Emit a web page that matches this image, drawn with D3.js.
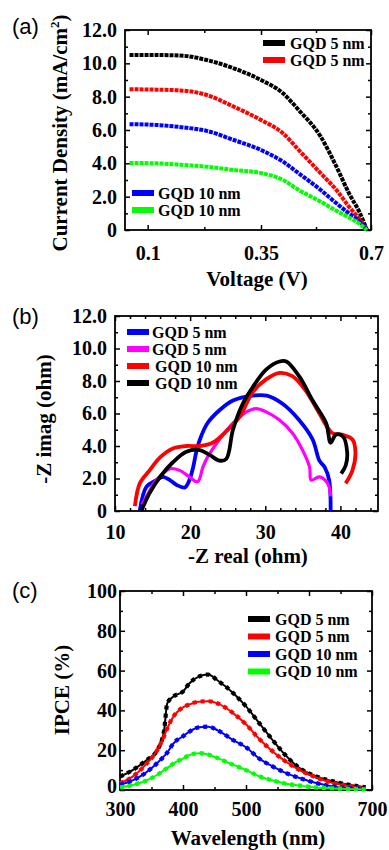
<!DOCTYPE html>
<html>
<head>
<meta charset="utf-8">
<script src="https://cdn.jsdelivr.net/npm/d3@7"></script>
<style>
  body { margin: 0; background: #fff; }
  svg { display: block; }
  .tick text { font-family: "Liberation Serif", serif; font-weight: bold; font-size: 20px; fill: #000; }
  .domain { display: none; }
  .tick line { stroke: #000; stroke-width: 1.5; }
  .title { font-family: "Liberation Serif", serif; font-weight: bold; font-size: 21px; fill: #000; }
  .leg { font-family: "Liberation Serif", serif; font-weight: bold; font-size: 16px; fill: #000; }
  .plabel { font-family: "Liberation Sans", sans-serif; font-size: 22px; fill: #000; }
</style>
</head>
<body>
<svg width="389" height="850"></svg>
<script>
// (a) J-V curves
var voltage = [0.06, 0.12, 0.18, 0.23, 0.29, 0.35, 0.42, 0.47, 0.54, 0.59, 0.63, 0.665, 0.687];
var jvBlack = [10.5, 10.5, 10.45, 10.2, 9.7, 9.0, 8.2, 7.2, 5.6, 3.8, 2.2, 1.0, 0];
var jvRed   = [8.45, 8.42, 8.36, 8.1, 7.4, 6.6, 5.8, 4.8, 3.4, 2.4, 1.4, 0.6, 0];
var jvBlue  = [6.35, 6.3, 6.15, 5.95, 5.4, 4.8, 4.1, 3.4, 2.4, 1.6, 1.0, 0.5, 0];
var jvGreen = [4.02, 4.0, 3.9, 3.8, 3.6, 3.42, 3.0, 2.4, 1.7, 1.15, 0.75, 0.35, 0];
var voltTicks = [0.1, 0.35, 0.7];
var voltLabels = ["0.1", "0.35", "0.7"];

// (b) Nyquist
var blueRe = [13.3, 14.2, 15.5, 16.4, 17.3, 18.2, 19.3, 19.9, 20.4, 20.8, 21.3, 22.3, 23.9, 25.7, 28.3, 30.2, 32.3, 34.5, 36.3, 37.2, 37.9, 38.5, 38.7];
var blueIm = [0.05, 1.5, 1.9, 2.1, 1.9, 1.6, 1.45, 1.9, 2.7, 3.6, 4.4, 5.4, 6.2, 6.8, 7.1, 7.1, 6.6, 5.6, 4.4, 3.1, 2.7, 1.9, 0];
var magRe = [13.6, 14.2, 15.5, 17.3, 18.6, 19.9, 21.0, 21.7, 22.3, 23.9, 25.7, 27.5, 28.8, 30.1, 31.9, 33.6, 34.9, 35.9, 36.1, 37.2, 38.3, 38.7];
var magIm = [0.4, 0.9, 1.9, 2.6, 2.5, 2.1, 1.8, 2.7, 3.3, 4.4, 5.4, 6.1, 6.3, 6.1, 5.6, 4.8, 3.8, 2.7, 1.9, 2.1, 1.7, 0.9];
var redRe = [12.65, 13.3, 14.6, 16.0, 17.7, 19.5, 21.3, 23.0, 24.8, 26.6, 28.3, 30.1, 31.9, 33.6, 35.4, 37.2, 38.9, 40.2, 41.6, 42.0, 41.6, 40.7];
var redIm = [0.3, 1.7, 2.5, 3.3, 3.85, 4.0, 4.0, 4.2, 4.9, 5.8, 7.3, 8.1, 8.5, 8.3, 7.4, 6.0, 4.8, 4.7, 4.4, 3.6, 2.5, 1.7];
var blackRe = [13.5, 14.6, 16.0, 17.7, 19.5, 21.3, 22.6, 23.9, 24.8, 25.7, 27.0, 28.3, 30.1, 31.9, 32.8, 34.5, 36.3, 38.1, 38.7, 39.4, 40.3, 40.9, 40.7, 40.1];
var blackIm = [0, 1.1, 2.1, 3.0, 3.65, 3.75, 3.45, 3.1, 3.2, 5.0, 6.6, 7.6, 8.7, 9.2, 9.2, 8.3, 6.8, 5.4, 4.2, 4.7, 4.6, 3.6, 2.8, 2.3];

// (c) IPCE
var wavelength = [300, 320, 340, 360, 370, 375, 385, 400, 410, 425, 440, 455, 480, 500, 520, 540, 560, 585, 610, 640, 690];
var ipceBlack = [6.7, 10, 14.5, 20.5, 30, 43.5, 47, 49.5, 53.5, 57, 58, 55, 48.6, 42, 34, 26, 18.4, 11, 7, 4.2, 1.3];
var ipceRed   = [3.4, 6.7, 12.5, 20.5, 27, 31, 37, 41.5, 43, 44.4, 44.6, 43.5, 38.5, 33, 26, 20, 15, 10, 6.5, 3.4, 1.0];
var ipceBlue  = [2.5, 4.8, 8.5, 13.8, 17, 18.8, 23.5, 27, 29.3, 31.5, 31.8, 30, 25, 21.5, 16, 12.2, 9, 6, 3.6, 1.7, 0.6];
var ipceGreen = [1.3, 2.5, 4.5, 7.8, 10, 11, 13.3, 15.8, 17.5, 18.5, 17.8, 16, 12.6, 10, 7, 5, 3.4, 2.2, 1.3, 0.8, 0.3];

var svg = d3.select("svg");

function frame(g, x, y, xMajor, xMinor, yMajor, yMinor, xFmt, yFmt, xPad, yPad) {
    var x0 = x.range()[0], x1 = x.range()[x.range().length - 1];
    var y0 = y.range()[0], y1 = y.range()[1];
    g.append("g").attr("transform", "translate(0," + y0 + ")")
        .call(d3.axisBottom(x).tickValues(xMajor).tickFormat(xFmt).tickSize(-5).tickPadding(xPad));
    g.append("g").attr("transform", "translate(0," + y0 + ")")
        .call(d3.axisBottom(x).tickValues(xMinor).tickFormat("").tickSize(-3));
    g.append("g").attr("transform", "translate(0," + y1 + ")")
        .call(d3.axisTop(x).tickValues(xMajor).tickFormat("").tickSize(-5));
    g.append("g").attr("transform", "translate(0," + y1 + ")")
        .call(d3.axisTop(x).tickValues(xMinor).tickFormat("").tickSize(-3));
    g.append("g").attr("class", "yaxis").attr("transform", "translate(" + x0 + ",0)")
        .call(d3.axisLeft(y).tickValues(yMajor).tickFormat(yFmt).tickSize(-5).tickPadding(yPad));
    g.append("g").attr("transform", "translate(" + x0 + ",0)")
        .call(d3.axisLeft(y).tickValues(yMinor).tickFormat("").tickSize(-3));
    g.append("g").attr("transform", "translate(" + x1 + ",0)")
        .call(d3.axisRight(y).tickValues(yMajor).tickFormat("").tickSize(-5));
    g.append("g").attr("transform", "translate(" + x1 + ",0)")
        .call(d3.axisRight(y).tickValues(yMinor).tickFormat("").tickSize(-3));
    g.append("rect")
        .attr("x", x0).attr("y", y1)
        .attr("width", x1 - x0).attr("height", y0 - y1)
        .attr("fill", "none").attr("stroke", "#000").attr("stroke-width", 1.8);
}

function legend(g, items, lx, ly, step, tx) {
    items.forEach(function(d, i) {
        var yy = ly + i * step;
        g.append("line")
            .attr("x1", lx).attr("x2", lx + 22)
            .attr("y1", yy).attr("y2", yy)
            .attr("stroke", d.color).attr("stroke-width", 6);
        g.append("text").attr("class", "leg")
            .attr("x", d.tx || tx).attr("y", yy + 5.5)
            .text(d.name);
    });
}

function yFmtDec(d) { return d === 0 ? "0" : d3.format(".1f")(d); }

// ---------- panel (a) ----------
var ga = svg.append("g");
var xa = d3.scaleLinear().domain([0.05, 0.35, 0.7]).range([125, 261, 371]);
var ya = d3.scaleLinear().domain([0, 12]).range([230, 30]);
var aMinor = [xa.invert((xa(0.1) + xa(0.35)) / 2), xa.invert((xa(0.35) + xa(0.7)) / 2)];
frame(ga, xa, ya, voltTicks, aMinor, d3.range(0, 13, 2), d3.range(1, 12, 2),
    function(d, i) { return voltLabels[i]; }, yFmtDec, 16, 8);

var lineA = d3.line()
    .x(function(d) { return xa(d[0]); })
    .y(function(d) { return ya(d[1]); })
    .curve(d3.curveMonotoneX);
[[jvBlack, "#000"], [jvRed, "#f00"], [jvBlue, "#00f"], [jvGreen, "#0f0"]].forEach(function(s) {
    ga.append("path")
        .datum(voltage.map(function(v, i) { return [v, s[0][i]]; }))
        .attr("d", lineA)
        .attr("fill", "none").attr("stroke", s[1])
        .attr("stroke-width", 4).attr("stroke-dasharray", "4 1");
});
legend(ga, [{name: "GQD 5 nm", color: "#000"}, {name: "GQD 5 nm", color: "#f00"}], 263, 43, 17, 290);
legend(ga, [{name: "GQD 10 nm", color: "#00f"}, {name: "GQD 10 nm", color: "#0f0"}], 132, 193, 17, 158);

ga.append("text").attr("class", "title")
    .attr("transform", "translate(67,133) rotate(-90)")
    .attr("text-anchor", "middle")
    .text("Current Density (mA/cm")
    .append("tspan").attr("dy", -8).attr("font-size", 13).text("2")
    .select(function() { return this.parentNode; })
    .append("tspan").attr("dy", 8).text(")");
ga.append("text").attr("class", "title")
    .attr("x", 257).attr("y", 286).attr("text-anchor", "middle")
    .text("Voltage (V)");
ga.append("text").attr("class", "plabel").attr("x", 12).attr("y", 34).text("(a)");

// ---------- panel (b) ----------
var gb = svg.append("g");
var xb = d3.scaleLinear().domain([10, 45]).range([115, 378]);
var yb = d3.scaleLinear().domain([0, 12]).range([511, 316]);
frame(gb, xb, yb, [10, 20, 30, 40], [12, 14, 16, 18, 22, 24, 26, 28, 32, 34, 36, 38, 42, 44],
    d3.range(0, 13, 2), d3.range(1, 12, 2), d3.format("d"), yFmtDec, 14, 8);

var lineB = d3.line()
    .x(function(d) { return xb(d[0]); })
    .y(function(d) { return yb(d[1]); })
    .curve(d3.curveCatmullRom);
[[blueRe, blueIm, "#00f", 3.8], [magRe, magIm, "#f0f", 3.2], [redRe, redIm, "#f00", 3.8], [blackRe, blackIm, "#000", 3.8]].forEach(function(s) {
    gb.append("path")
        .datum(s[0].map(function(v, i) { return [v, s[1][i]]; }))
        .attr("d", lineB)
        .attr("fill", "none").attr("stroke", s[2])
        .attr("stroke-width", s[3]).attr("stroke-linejoin", "round");
});
legend(gb, [
    {name: "GQD 5 nm", color: "#00f"},
    {name: "GQD 5 nm", color: "#f0f"},
    {name: "GQD 10 nm", color: "#f00", tx: 155},
    {name: "GQD 10 nm", color: "#000", tx: 155}
], 127, 332, 17, 152);

gb.append("text").attr("class", "title")
    .attr("transform", "translate(51,419) rotate(-90)")
    .attr("text-anchor", "middle")
    .text("-Z imag (ohm)");
gb.append("text").attr("class", "title")
    .attr("x", 248).attr("y", 563).attr("text-anchor", "middle")
    .text("-Z real (ohm)");
gb.append("text").attr("class", "plabel").attr("x", 12).attr("y", 324).text("(b)");

// ---------- panel (c) ----------
var gc = svg.append("g");
var xc = d3.scaleLinear().domain([300, 700]).range([120, 372]);
var yc = d3.scaleLinear().domain([0, 100]).range([790, 591]);
frame(gc, xc, yc, d3.range(300, 701, 100), [350, 450, 550, 650],
    d3.range(0, 101, 20), d3.range(10, 100, 20), d3.format("d"), d3.format("d"), 12, 3);
// lift the corner "0" a little so it clears the "300" label
gc.select(".yaxis").selectAll(".tick text")
    .filter(function(d) { return d === 0; })
    .attr("dy", "0.12em");

var lineC = d3.line()
    .x(function(d) { return xc(d[0]); })
    .y(function(d) { return yc(d[1]); })
    .curve(d3.curveMonotoneX);
[[ipceBlack, "#000"], [ipceRed, "#f00"], [ipceBlue, "#00f"], [ipceGreen, "#0f0"]].forEach(function(s) {
    var pts = wavelength.map(function(v, i) { return [v, s[0][i]]; });
    gc.append("path").datum(pts).attr("d", lineC)
        .attr("fill", "none").attr("stroke", s[1]).attr("stroke-width", 2);
    gc.append("path").datum(pts).attr("d", lineC)
        .attr("fill", "none").attr("stroke", s[1])
        .attr("stroke-width", 4.2).attr("stroke-dasharray", "4 4");
});
legend(gc, [
    {name: "GQD 5 nm", color: "#000"},
    {name: "GQD 5 nm", color: "#f00"},
    {name: "GQD 10 nm", color: "#00f"},
    {name: "GQD 10 nm", color: "#0f0"}
], 248, 619, 17.5, 275);

gc.append("text").attr("class", "title")
    .attr("transform", "translate(69,690) rotate(-90)")
    .attr("text-anchor", "middle")
    .text("IPCE (%)");
gc.append("text").attr("class", "title")
    .attr("x", 248).attr("y", 845).attr("text-anchor", "middle")
    .text("Wavelength (nm)");
gc.append("text").attr("class", "plabel").attr("x", 12).attr("y", 598).text("(c)");
</script>
</body>
</html>
